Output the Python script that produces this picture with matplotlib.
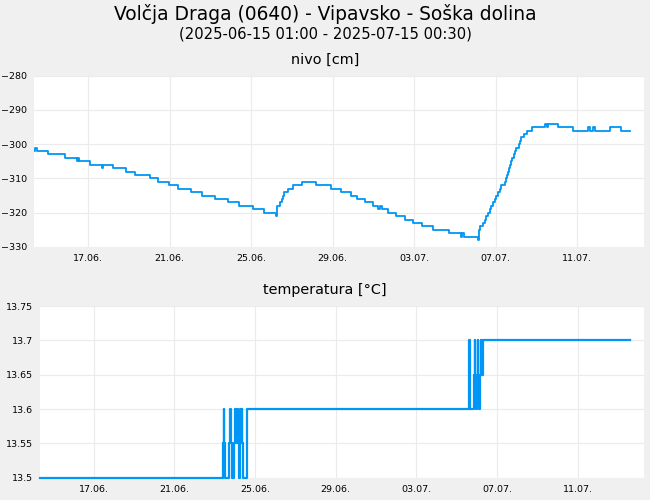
import numpy as np
import matplotlib
matplotlib.use("Agg")
import matplotlib.pyplot as plt
import matplotlib.dates as mdates
from matplotlib.ticker import FuncFormatter

# data (hours from first sample, value)
t_start = np.datetime64("2025-06-14T08:00")

nivo_h = [0, 1.2, 3.1, 16.9, 36.1, 50.3, 51.4, 53.0, 66.0, 79.7, 80.9, 93.5,
          108.0, 119.0, 136.7, 145.7, 159.4, 170.0, 184.6, 197.5, 213.2, 228.2,
          241.1, 258.4, 271.0, 285.1, 286.7, 289.8, 291.8, 293.7, 294.9, 299.6,
          305.5, 316.1, 332.2, 350.3, 361.3, 373.1, 380.9, 390.0, 399.8, 405.8,
          407.5, 409.6, 417.4, 426.1, 437.1, 446.9, 457.5, 470.5, 488.9, 503.8,
          505.0, 506.6, 523.4, 524.6, 526.2, 529.0, 531.3, 533.3, 535.2, 537.5,
          539.1, 541.0, 543.1, 545.1, 547.0, 549.0, 551.0, 555.2, 556.5, 557.6,
          559.0, 560.0, 561.5, 562.7, 564.0, 565.4, 567.0, 568.6, 571.7, 573.0,
          574.5, 577.6, 581.1, 587.5, 602.8, 604.6, 605.8, 617.7, 635.3, 653.0,
          655.0, 659.0, 661.0, 678.6, 691.5, 702.0]
nivo_v = [-302, -301, -302, -303, -304, -305, -304, -305, -306, -307, -306, -307,
          -308, -309, -310, -311, -312, -313, -314, -315, -316, -317,
          -318, -319, -320, -321, -318, -317, -316, -315, -314, -313,
          -312, -311, -312, -313, -314, -315, -316, -317, -318, -319,
          -318, -319, -320, -321, -322, -323, -324, -325, -326, -327,
          -326, -327, -328, -325, -324, -323, -322, -321, -320, -319,
          -318, -317, -316, -315, -314, -313, -312, -311, -310, -309,
          -308, -307, -306, -305, -304, -303, -302, -301, -300, -299,
          -298, -297, -296, -295, -294, -295, -294, -295, -296, -295,
          -296, -295, -296, -295, -296, -296]

temp_h = [0, 218.0, 219.0, 219.5, 220.5, 225.5, 226.5, 227.0, 228.0, 231.5,
          232.5, 233.0, 235.0, 235.5, 236.5, 237.5, 238.5, 239.0, 240.5, 241.0,
          242.0, 247.0, 510.3, 510.9, 511.5, 512.1, 516.3, 517.5, 518.1, 518.7,
          519.9, 521.1, 521.7, 522.2, 523.4, 524.6, 525.2, 525.8, 526.4, 527.6,
          702.0]
temp_v = [13.5, 13.55, 13.6, 13.55, 13.5, 13.55, 13.6, 13.55, 13.5, 13.55,
          13.6, 13.55, 13.6, 13.55, 13.5, 13.55, 13.6, 13.55, 13.6, 13.55,
          13.5, 13.6, 13.65, 13.7, 13.65, 13.6, 13.65, 13.7, 13.65, 13.6,
          13.65, 13.7, 13.65, 13.6, 13.65, 13.7, 13.65, 13.7, 13.65, 13.7,
          13.7]

nivo_ticks = [-330, -320, -310, -300, -290, -280]
temp_ticks = [13.5, 13.55, 13.6, 13.65, 13.7, 13.75]
date_ticks = ["2025-06-17", "2025-06-21", "2025-06-25", "2025-06-29",
              "2025-07-03", "2025-07-07", "2025-07-11"]


def to_dates(hours):
    mins = (np.array(hours) * 60).astype("timedelta64[m]")
    return (t_start + mins).astype("datetime64[ms]").astype(object)


bg = "#f0f0f0"
blue = "#0096f5"
grid = "#ebebeb"

fig = plt.figure(figsize=(6.5, 5), dpi=100, facecolor=bg)
fig.text(0.5, 0.972, "Volčja Draga (0640) - Vipavsko - Soška dolina",
         ha="center", va="center", fontsize=13.4)
fig.text(0.5, 0.932, "(2025-06-15 01:00 - 2025-07-15 00:30)",
         ha="center", va="center", fontsize=10.6)
fig.text(0.5, 0.880, "nivo [cm]", ha="center", va="center", fontsize=10.4)
fig.text(0.5, 0.420, "temperatura [°C]", ha="center", va="center", fontsize=10.4)

ax1 = fig.add_axes([34 / 650, 1 - 247 / 500, 610 / 650, 171.3 / 500])
ax2 = fig.add_axes([40 / 650, 1 - 477.7 / 500, 604 / 650, 171.7 / 500])

xmin = to_dates([0])[0]
xmax = to_dates([719])[0]

ax1.plot(to_dates(nivo_h), nivo_v, drawstyle="steps-post", color=blue, lw=1.3)
ax2.plot(to_dates(temp_h), temp_v, drawstyle="steps-post", color=blue, lw=1.6,
         clip_on=False)

ax1.set_ylim(-330, -280)
ax1.set_yticks(nivo_ticks)
ax2.set_ylim(13.5, 13.75)
ax2.set_yticks(temp_ticks)
ax2.yaxis.set_major_formatter(FuncFormatter(lambda v, p: "%g" % round(v, 2)))

for ax in (ax1, ax2):
    ax.set_facecolor("white")
    ax.set_xlim(xmin, xmax)
    ax.set_xticks([np.datetime64(d).astype(object) for d in date_ticks])
    ax.xaxis.set_major_formatter(mdates.DateFormatter("%d.%m."))
    for s in ax.spines.values():
        s.set_visible(False)
    ax.grid(True, color=grid, lw=0.8)
    ax.set_axisbelow(True)
    ax.tick_params(length=0, labelsize=6.8, pad=5)

fig.savefig("out.png", dpi=100, facecolor=bg)
